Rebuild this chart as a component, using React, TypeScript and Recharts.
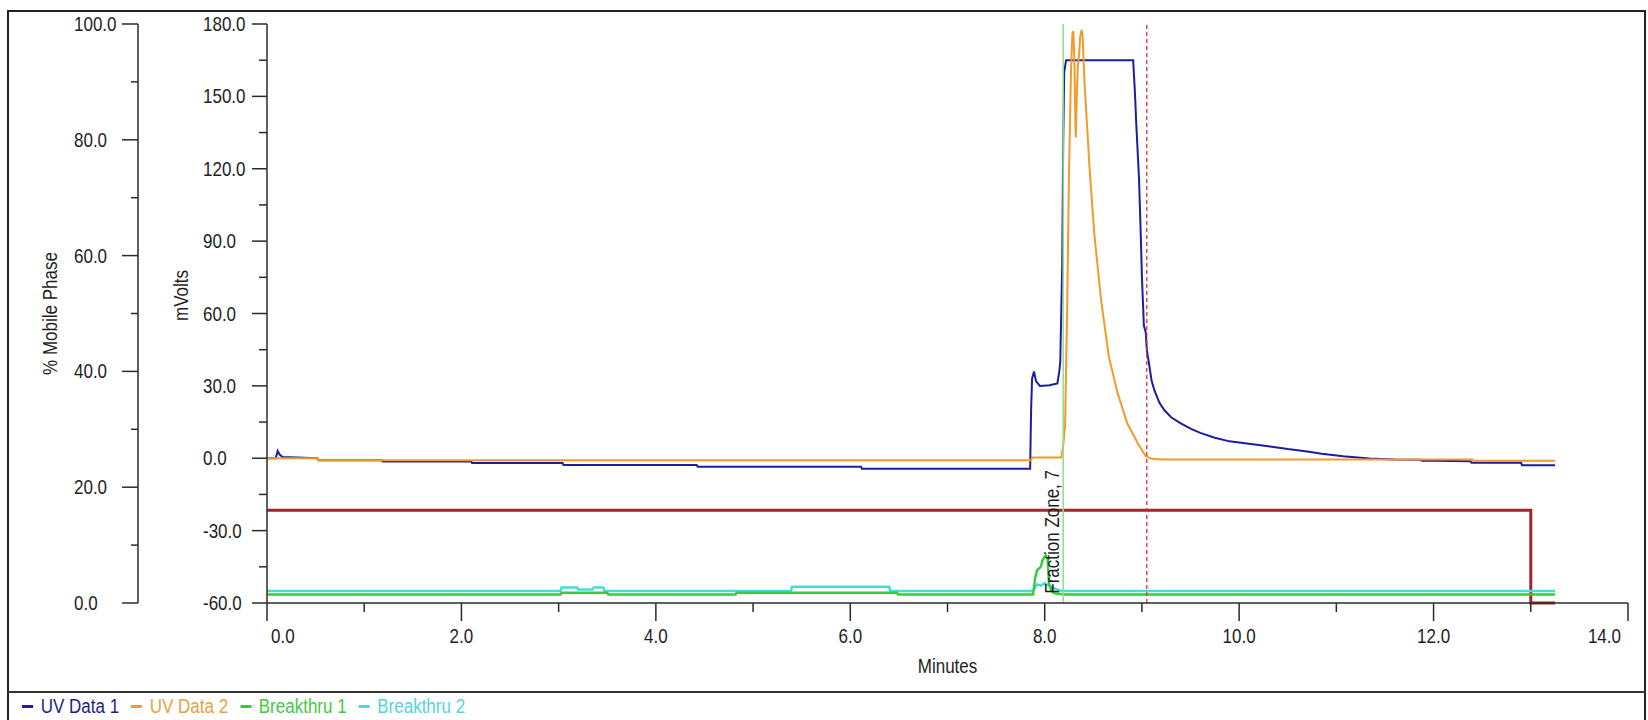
import { LineChart, Line, XAxis, YAxis, ReferenceLine, Legend } from 'recharts';

const FONT = "'Liberation Sans', Arial, sans-serif";
const SQUEEZE = 0.85; // the original uses a narrow sans
const INK = '#1e1e1e';
const AXIS = '#2b2b2b';

// axis ticks
const minuteMajorTicks = [0, 2, 4, 6, 8, 10, 12, 14];
const minuteMinorTicks = [1, 3, 5, 7, 9, 11, 13];
const mvMajorTicks = [-60, -30, 0, 30, 60, 90, 120, 150, 180];
const mvMinorTicks = [-45, -15, 15, 45, 75, 105, 135, 165];
const pctMajorTicks = [0, 20, 40, 60, 80, 100];
const pctMinorTicks = [10, 30, 50, 70, 90];

// UV Data 1 (minutes / mVolts)
const uv1Time = [
  0, 0.09, 0.11, 0.13, 0.16, 0.52, 0.53, 1.18, 1.19, 2.1, 2.11, 3.04, 3.05, 4.42, 4.43, 6.11, 6.12, 7.85,
  7.86, 7.87, 7.89, 7.91, 7.95, 8.05, 8.13, 8.15, 8.16, 8.17, 8.18, 8.19, 8.2, 8.22, 8.91, 8.93, 8.94,
  8.97, 8.99, 9.0, 9.01, 9.02, 9.04, 9.05, 9.07, 9.1, 9.13, 9.18, 9.23, 9.3, 9.4, 9.5, 9.6, 9.75, 9.9,
  10.1, 10.3, 10.5, 10.7, 10.85, 11.07, 11.34, 11.6, 11.87, 11.88, 12.0, 12.38, 12.39, 12.9, 12.91, 13.25,
];
const uv1Mv = [
  0, 0, 3, 1.5, 0.5, 0, -0.8, -0.8, -1.3, -1.3, -2.0, -2.0, -2.8, -2.8, -3.5, -3.5, -4.4, -4.4,
  20, 33, 36, 32, 30, 30.3, 31, 36, 40, 60, 80, 130, 160, 165, 165, 150, 140,
  116, 90, 75, 65, 55, 52, 45, 40, 32, 28, 23, 20, 17, 14.5, 12.3, 10.5, 8.5, 7,
  6, 5, 3.8, 2.8, 1.9, 0.8, -0.1, -0.5, -0.6, -1, -1, -1.2, -1.9, -1.9, -2.9, -2.9,
];

// UV Data 2
const uv2Time = [
  0, 0.52, 0.53, 7.86, 7.87, 8.17, 8.19, 8.21, 8.23, 8.25, 8.27, 8.285, 8.295, 8.305, 8.315, 8.32, 8.33,
  8.34, 8.355, 8.365, 8.38, 8.39, 8.41, 8.44, 8.46, 8.51, 8.58, 8.66, 8.75, 8.85, 8.96, 9.04, 9.1, 9.22,
  12.4, 12.41, 13.25,
];
const uv2Mv = [
  0, 0, -0.8, -0.8, 0.3, 0.3, 5, 14, 60, 118, 160, 176, 177, 165, 140, 133, 150,
  162, 168, 175, 177.5, 175, 155, 135, 121, 93, 65.5, 42, 27, 14.4, 6, 0.8, -0.2, -0.5,
  -0.5, -1.0, -1.0,
];

// Breakthru 1
const bt1Time = [
  0, 3.02, 3.03, 3.5, 3.51, 4.82, 4.83, 6.48, 6.49, 7.88, 7.9, 7.92, 7.96, 7.98, 8.01, 8.03, 8.045, 8.07,
  8.1, 8.2, 13.25,
];
const bt1Mv = [
  -56.5, -56.5, -55.8, -55.8, -56.5, -56.5, -55.8, -55.8, -56.5, -56.5, -50, -46.5, -45, -42, -40.2, -42,
  -52, -55, -56, -56.5, -56.5,
];

// Breakthru 2
const bt2Time = [
  0, 3.02, 3.03, 3.19, 3.2, 3.35, 3.36, 3.46, 3.47, 5.39, 5.4, 6.4, 6.41, 7.88, 7.92, 7.96, 8.0, 8.05,
  8.12, 8.18, 13.25,
];
const bt2Mv = [
  -55, -55, -53.6, -53.6, -54.4, -54.4, -53.6, -53.6, -55, -55, -53.3, -53.3, -55, -55, -52.3, -52.8,
  -51.8, -53, -54.3, -55, -55,
];

// % mobile phase
const phaseTime = [0, 13.0, 13.0, 13.25];
const phasePct = [16, 16, 0, 0];

// events
const fractionStart = 8.19;
const fractionEnd = 9.05;

const zip = (t: number[], v: number[]) => t.map((x, i) => ({ t: x, v: v[i] }));

const legendItems = [
  { name: 'UV Data 1', color: '#1d1d9e', text: '#1d1d8c' },
  { name: 'UV Data 2', color: '#f29a2a', text: '#e6a048' },
  { name: 'Breakthru 1', color: '#39cc39', text: '#45c845' },
  { name: 'Breakthru 2', color: '#45dcdc', text: '#55d4d8' },
];

const fmt = (v: number) => v.toFixed(1);

const NarrowText = ({ x, y, rotate = 0, anchor = 'start', baseline, children }: any) => (
  <text
    x={0}
    y={0}
    transform={`translate(${x} ${y}) rotate(${rotate}) scale(${SQUEEZE} 1)`}
    textAnchor={anchor}
    dominantBaseline={baseline}
    fontFamily={FONT}
    fontSize={20}
    fill={INK}
  >
    {children}
  </text>
);

const MinuteTick = ({ x, y, payload }: any) => {
  const v = payload.value;
  const major = minuteMajorTicks.includes(v);
  const first = v === minuteMajorTicks[0];
  const last = v === minuteMajorTicks[minuteMajorTicks.length - 1];
  return (
    <g>
      <line x1={x} x2={x} y1={y} y2={y + (major ? 18 : 9)} stroke={AXIS} strokeWidth={1.5} />
      {major && (
        <NarrowText x={first ? x + 4 : last ? x - 7 : x} y={y + 40} anchor={first ? 'start' : last ? 'end' : 'middle'}>
          {fmt(v)}
        </NarrowText>
      )}
    </g>
  );
};

const LeftTick = (majors: number[], majorLen: number, minorLen: number) => ({ x, y, payload }: any) => {
  const major = majors.includes(payload.value);
  return (
    <g>
      <line x1={x - (major ? majorLen : minorLen)} x2={x} y1={y} y2={y} stroke={AXIS} strokeWidth={1.5} />
      {major && (
        <NarrowText x={x - 64} y={y + 7}>
          {fmt(payload.value)}
        </NarrowText>
      )}
    </g>
  );
};

const MvTick = LeftTick(mvMajorTicks, 15, 8);
const PctTick = LeftTick(pctMajorTicks, 16, 7);

const sideTitle = (text: string, cxOff: number, dy: number) => (p: any) => {
  const vb = p.viewBox;
  return (
    <NarrowText x={vb.x + cxOff} y={vb.y + vb.height / 2 + dy} rotate={-90} anchor="middle" baseline="middle">
      {text}
    </NarrowText>
  );
};

const LegendBar = () => (
  <div style={{ height: 29, boxSizing: 'border-box', borderTop: '2px solid #333', paddingLeft: 15, overflow: 'hidden' }}>
    <div
      style={{
        display: 'flex',
        alignItems: 'center',
        height: 27,
        transform: `scaleX(${SQUEEZE})`,
        transformOrigin: 'left center',
        fontFamily: FONT,
        fontSize: 20,
        whiteSpace: 'nowrap',
      }}
    >
      {legendItems.map((it) => (
        <span key={it.name} style={{ display: 'flex', alignItems: 'center', marginRight: 14, color: it.text }}>
          <span style={{ width: 13, height: 3, background: it.color, marginRight: 9 }} />
          {it.name}
        </span>
      ))}
    </div>
  </div>
);

export default function App() {
  return (
    <div style={{ position: 'absolute', left: 0, top: 0, width: 1648, height: 720, background: '#fff', overflow: 'hidden' }}>
      <div
        style={{
          position: 'absolute',
          left: 7,
          top: 10,
          width: 1639,
          height: 720,
          boxSizing: 'border-box',
          borderTop: '2px solid #222',
          borderLeft: '2px solid #222',
          borderRight: '2px solid #222',
        }}
      />
      <LineChart width={1648} height={720} margin={{ top: 24, right: 20, bottom: 0, left: 0 }}>
        <XAxis
          dataKey="t"
          type="number"
          domain={[0, 14]}
          ticks={[...minuteMajorTicks, ...minuteMinorTicks].sort((a, b) => a - b)}
          interval={0}
          height={88}
          tickSize={0}
          tickMargin={0}
          tickLine={false}
          tick={<MinuteTick />}
          axisLine={{ stroke: AXIS, strokeWidth: 1.5 }}
          label={(p: any) => (
            <NarrowText x={p.viewBox.x + p.viewBox.width / 2} y={p.viewBox.y + 70} anchor="middle">
              Minutes
            </NarrowText>
          )}
        />
        <YAxis
          yAxisId="pct"
          type="number"
          domain={[0, 100]}
          ticks={[...pctMajorTicks, ...pctMinorTicks].sort((a, b) => a - b)}
          interval={0}
          width={138}
          tickSize={0}
          tickMargin={0}
          tickLine={false}
          tick={<PctTick />}
          axisLine={{ stroke: AXIS, strokeWidth: 1.5 }}
          label={sideTitle('% Mobile Phase', 52, 0)}
        />
        <YAxis
          yAxisId="mv"
          type="number"
          domain={[-60, 180]}
          ticks={[...mvMajorTicks, ...mvMinorTicks].sort((a, b) => a - b)}
          interval={0}
          width={129}
          tickSize={0}
          tickMargin={0}
          tickLine={false}
          tick={<MvTick />}
          axisLine={{ stroke: AXIS, strokeWidth: 1.5 }}
          label={sideTitle('mVolts', 45, -18)}
        />
        <Legend verticalAlign="bottom" align="left" content={<LegendBar />} wrapperStyle={{ left: 7, width: 1639, bottom: 0 }} />
        <Line yAxisId="pct" data={zip(phaseTime, phasePct)} dataKey="v" stroke="#a3252b" strokeWidth={3} dot={false} activeDot={false} isAnimationActive={false} legendType="none" />
        <Line yAxisId="mv" data={zip(bt2Time, bt2Mv)} dataKey="v" name="Breakthru 2" stroke="#45dcdc" strokeWidth={2.5} dot={false} activeDot={false} isAnimationActive={false} />
        <Line yAxisId="mv" data={zip(bt1Time, bt1Mv)} dataKey="v" name="Breakthru 1" stroke="#39cc39" strokeWidth={2.5} dot={false} activeDot={false} isAnimationActive={false} />
        <Line yAxisId="mv" data={zip(uv1Time, uv1Mv)} dataKey="v" name="UV Data 1" stroke="#1d1d9e" strokeWidth={2} dot={false} activeDot={false} isAnimationActive={false} />
        <Line yAxisId="mv" data={zip(uv2Time, uv2Mv)} dataKey="v" name="UV Data 2" stroke="#f29a2a" strokeWidth={2} dot={false} activeDot={false} isAnimationActive={false} />
        <ReferenceLine
          yAxisId="mv"
          x={fractionStart}
          stroke="#8ede8e"
          strokeWidth={1.5}
          label={(p: any) => (
            <NarrowText x={p.viewBox.x - 4} y={p.viewBox.y + 446} rotate={-90} anchor="end">
              Fraction Zone, 7
            </NarrowText>
          )}
        />
        <ReferenceLine yAxisId="mv" x={fractionEnd} stroke="#d83232" strokeWidth={1.3} strokeDasharray="4 3" />
      </LineChart>
    </div>
  );
}
